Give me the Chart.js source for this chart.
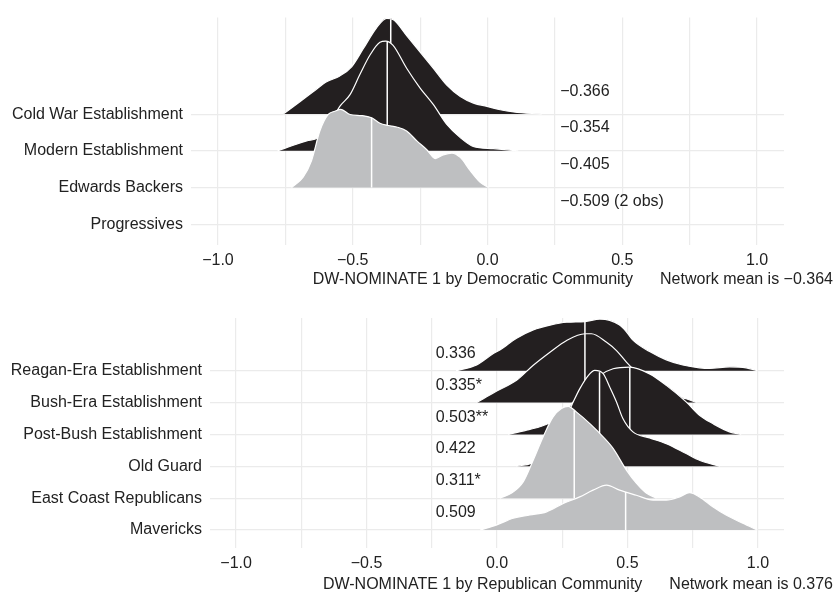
<!DOCTYPE html>
<html>
<head>
<meta charset="utf-8">
<title>DW-NOMINATE ridgelines</title>
<script src="https://cdn.jsdelivr.net/npm/chart.js@4"></script>
<style>
  body { margin: 0; background: #fff; }
  canvas { display: block; }
</style>
</head>
<body>
<canvas id="demChart" width="835" height="300"></canvas>
<canvas id="repChart" width="835" height="300"></canvas>
<script>
// x axis gridlines (labels only on the half units)
const xGridValues = [-1, -0.75, -0.5, -0.25, 0, 0.25, 0.5, 0.75, 1];

// ---- Democratic communities, listed bottom row first ----
const demCategories = ['Progressives', 'Edwards Backers', 'Modern Establishment', 'Cold War Establishment'];
const demMedians = [null, -0.43, -0.372, -0.359];
const demLabels = ['\u22120.509 (2 obs)', '\u22120.405', '\u22120.354', '\u22120.366'];
const demTitle = 'DW-NOMINATE 1 by Democratic Community';
const demMean = 'Network mean is \u22120.364';

const coldWarX = [-0.758, -0.696, -0.647, -0.597, -0.548, -0.504, -0.461, -0.411, -0.374, -0.349, -0.300, -0.250, -0.200, -0.151, -0.101, -0.052, -0.002, 0.047, 0.097, 0.201];
const coldWarH = [0, 0.34, 0.61, 0.88, 1.04, 1.29, 1.78, 2.36, 2.61, 2.57, 2.14, 1.69, 1.24, 0.79, 0.48, 0.30, 0.21, 0.12, 0.06, 0];

const modernX = [-0.779, -0.709, -0.671, -0.629, -0.585, -0.548, -0.510, -0.474, -0.436, -0.399, -0.378, -0.351, -0.300, -0.250, -0.202, -0.151, -0.101, -0.053, 0.021, 0.114];
const modernH = [0, 0.18, 0.27, 0.36, 0.75, 1.21, 1.53, 2.07, 2.61, 2.96, 2.99, 2.88, 2.25, 1.71, 1.27, 0.72, 0.36, 0.12, 0.06, 0];

const edwardsX = [-0.727, -0.684, -0.653, -0.622, -0.591, -0.566, -0.544, -0.510, -0.467, -0.430, -0.399, -0.368, -0.337, -0.300, -0.262, -0.225, -0.194, -0.164, -0.132, -0.101, -0.064, -0.027, 0.004];
const edwardsH = [0, 0.28, 0.73, 1.54, 1.99, 2.08, 2.13, 1.99, 1.96, 1.90, 1.75, 1.69, 1.65, 1.54, 1.27, 1.03, 0.79, 0.89, 0.94, 0.82, 0.46, 0.14, 0];

// ---- Republican communities, listed bottom row first ----
const repCategories = ['Mavericks', 'East Coast Republicans', 'Old Guard', 'Post-Bush Establishment', 'Bush-Era Establishment', 'Reagan-Era Establishment'];
const repMedians = [0.493, 0.296, 0.393, 0.509, 0.337, 0.337];
const repLabels = ['0.509', '0.311*', '0.422', '0.503**', '0.335*', '0.336'];
const repTitle = 'DW-NOMINATE 1 by Republican Community';
const repMean = 'Network mean is 0.376';

const reaganX = [-0.157, -0.078, -0.014, 0.011, 0.075, 0.139, 0.203, 0.267, 0.337, 0.394, 0.432, 0.470, 0.496, 0.521, 0.585, 0.649, 0.712, 0.776, 0.815, 0.891, 0.955, 0.997];
const reaganH = [0, 0.18, 0.54, 0.65, 1.02, 1.28, 1.43, 1.52, 1.54, 1.62, 1.58, 1.43, 1.22, 0.96, 0.60, 0.34, 0.18, 0.09, 0.07, 0.12, 0.09, 0];

const bushX = [-0.078, -0.001, 0.075, 0.139, 0.203, 0.267, 0.337, 0.362, 0.420, 0.458, 0.496, 0.547, 0.604, 0.662, 0.725, 0.765];
const bushH = [0, 0.36, 0.70, 1.17, 1.58, 1.95, 2.16, 2.16, 1.89, 1.63, 1.27, 0.85, 0.50, 0.25, 0.12, 0];

const postBushX = [0.043, 0.107, 0.164, 0.222, 0.279, 0.337, 0.394, 0.445, 0.509, 0.585, 0.649, 0.725, 0.776, 0.827, 0.891, 0.936];
const postBushH = [0, 0.12, 0.24, 0.45, 0.90, 1.40, 1.85, 2.06, 2.11, 1.90, 1.54, 1.02, 0.60, 0.34, 0.08, 0];

const oldGuardX = [0.075, 0.133, 0.184, 0.233, 0.286, 0.317, 0.349, 0.375, 0.407, 0.432, 0.458, 0.483, 0.521, 0.585, 0.649, 0.725, 0.776, 0.853];
const oldGuardH = [0, 0.10, 0.40, 1.00, 1.91, 2.43, 2.84, 3.01, 2.91, 2.49, 2.02, 1.49, 1.08, 0.89, 0.71, 0.40, 0.19, 0];

const eastCoastX = [0.011, 0.056, 0.101, 0.139, 0.177, 0.215, 0.247, 0.273, 0.305, 0.356, 0.406, 0.445, 0.496, 0.534, 0.572, 0.611];
const eastCoastH = [0, 0.16, 0.52, 1.20, 1.93, 2.55, 2.81, 2.88, 2.70, 2.34, 1.93, 1.56, 0.88, 0.47, 0.16, 0];

const mavericksX = [-0.065, -0.001, 0.062, 0.126, 0.190, 0.254, 0.317, 0.368, 0.420, 0.470, 0.534, 0.598, 0.649, 0.700, 0.738, 0.776, 0.827, 0.878, 0.942, 0.997];
const mavericksH = [0, 0.16, 0.37, 0.47, 0.57, 0.83, 1.04, 1.25, 1.41, 1.25, 1.09, 0.94, 0.94, 1.04, 1.17, 1.04, 0.73, 0.47, 0.21, 0];

const DARK = '#231f20';
const LIGHT = '#bebfc1';
const GRID = '#ebebeb';
const TEXT = '#222';
const FONT = 'Liberation Sans, Arial, Helvetica, sans-serif';
const FONT_SIZE = 16;

function minus(s) {
    return s.replace('-', '\u2212');
}

// linear lookup of a ridge's height at x, used for the top of the median line
function heightAt(xs, hs, x) {
    for (let i = 1; i < xs.length; i++) {
        if (x <= xs[i]) {
            const t = (x - xs[i - 1]) / (xs[i] - xs[i - 1]);
            return hs[i - 1] + t * (hs[i] - hs[i - 1]);
        }
    }
    return 0;
}

function buildDatasets(ridges, medians, colors) {
    const sets = [];
    ridges.forEach(function (r, base) {
        if (!r) return;
        const xs = r[0], hs = r[1];
        sets.push({
            data: xs.map((x, i) => ({ x: x, y: base + hs[i] })),
            fill: { value: base },
            backgroundColor: colors[base],
            borderColor: '#fff',
            borderWidth: 1.2,
            pointRadius: 0,
            tension: 0.4,
            cubicInterpolationMode: 'monotone',
            order: base
        });
        if (medians[base] !== null) {
            const m = medians[base];
            sets.push({
                data: [{ x: m, y: base }, { x: m, y: base + heightAt(xs, hs, m) }],
                fill: false,
                borderColor: '#fff',
                borderWidth: 1.5,
                pointRadius: 0,
                order: base - 0.5
            });
        }
    });
    return sets;
}

function makeChart(id, opts) {
    const textPlugin = {
        id: 'ridgeText',
        afterDatasetsDraw(chart) {
            const ctx = chart.ctx;
            const xs = chart.scales.x, ys = chart.scales.y;
            ctx.save();
            ctx.font = FONT_SIZE + 'px ' + FONT;
            ctx.fillStyle = TEXT;
            ctx.textAlign = 'left';
            ctx.textBaseline = 'middle';
            opts.labels.forEach(function (txt, i) {
                ctx.fillText(txt, xs.getPixelForValue(opts.labelX), ys.getPixelForValue(i + opts.labelLift));
            });
            // axis title and network mean, right hand side under the axis
            const ty = chart.chartArea.bottom + opts.titleDrop;
            ctx.textAlign = 'right';
            ctx.fillText(opts.mean, chart.width - 2, ty);
            ctx.fillText(opts.title, chart.width - 2 - ctx.measureText(opts.mean).width - 27, ty);
            ctx.restore();
        }
    };

    return new Chart(document.getElementById(id), {
        type: 'line',
        data: { datasets: buildDatasets(opts.ridges, opts.medians, opts.colors) },
        options: {
            responsive: false,
            animation: false,
            layout: { padding: { top: opts.padTop, right: 51, left: 0, bottom: 0 } },
            plugins: { legend: { display: false }, tooltip: { enabled: false } },
            scales: {
                x: {
                    type: 'linear',
                    min: -1.1,
                    max: 1.1,
                    afterBuildTicks: s => { s.ticks = xGridValues.map(v => ({ value: v })); },
                    afterFit: s => { s.height = opts.xHeight; },
                    ticks: {
                        autoSkip: false,
                        maxRotation: 0,
                        padding: 6,
                        color: TEXT,
                        font: { family: FONT, size: FONT_SIZE },
                        callback: function (v) {
                            return Math.abs(v * 2 - Math.round(v * 2)) < 1e-6 ? minus(v.toFixed(1)) : '';
                        }
                    },
                    grid: { color: GRID, lineWidth: 1.2, drawTicks: false },
                    border: { display: false }
                },
                y: {
                    type: 'linear',
                    min: opts.yMin,
                    max: opts.yMax,
                    afterBuildTicks: s => { s.ticks = opts.categories.map((c, i) => ({ value: i })); },
                    afterFit: s => { s.width = opts.yWidth; },
                    ticks: {
                        padding: 8,
                        color: TEXT,
                        font: { family: FONT, size: FONT_SIZE },
                        callback: v => opts.categories[v]
                    },
                    grid: { color: GRID, lineWidth: 1.2, drawTicks: false },
                    border: { display: false }
                }
            }
        },
        plugins: [textPlugin]
    });
}

makeChart('demChart', {
    categories: demCategories,
    ridges: [null, [edwardsX, edwardsH], [modernX, modernH], [coldWarX, coldWarH]],
    medians: demMedians,
    colors: [null, LIGHT, DARK, DARK],
    labels: demLabels,
    labelX: 0.27,
    labelLift: 0.62,
    title: demTitle,
    mean: demMean,
    titleDrop: 35,
    padTop: 15,
    xHeight: 55,
    yWidth: 191,
    yMin: -0.566,
    yMax: 5.63
});

makeChart('repChart', {
    categories: repCategories,
    ridges: [[mavericksX, mavericksH], [eastCoastX, eastCoastH], [oldGuardX, oldGuardH],
             [postBushX, postBushH], [bushX, bushH], [reaganX, reaganH]],
    medians: repMedians,
    colors: [LIGHT, LIGHT, DARK, DARK, DARK, DARK],
    labels: repLabels,
    labelX: -0.235,
    labelLift: 0.54,
    title: repTitle,
    mean: repMean,
    titleDrop: 37,
    padTop: 18,
    xHeight: 52,
    yWidth: 210,
    yMin: -0.565,
    yMax: 6.654
});
</script>
</body>
</html>
